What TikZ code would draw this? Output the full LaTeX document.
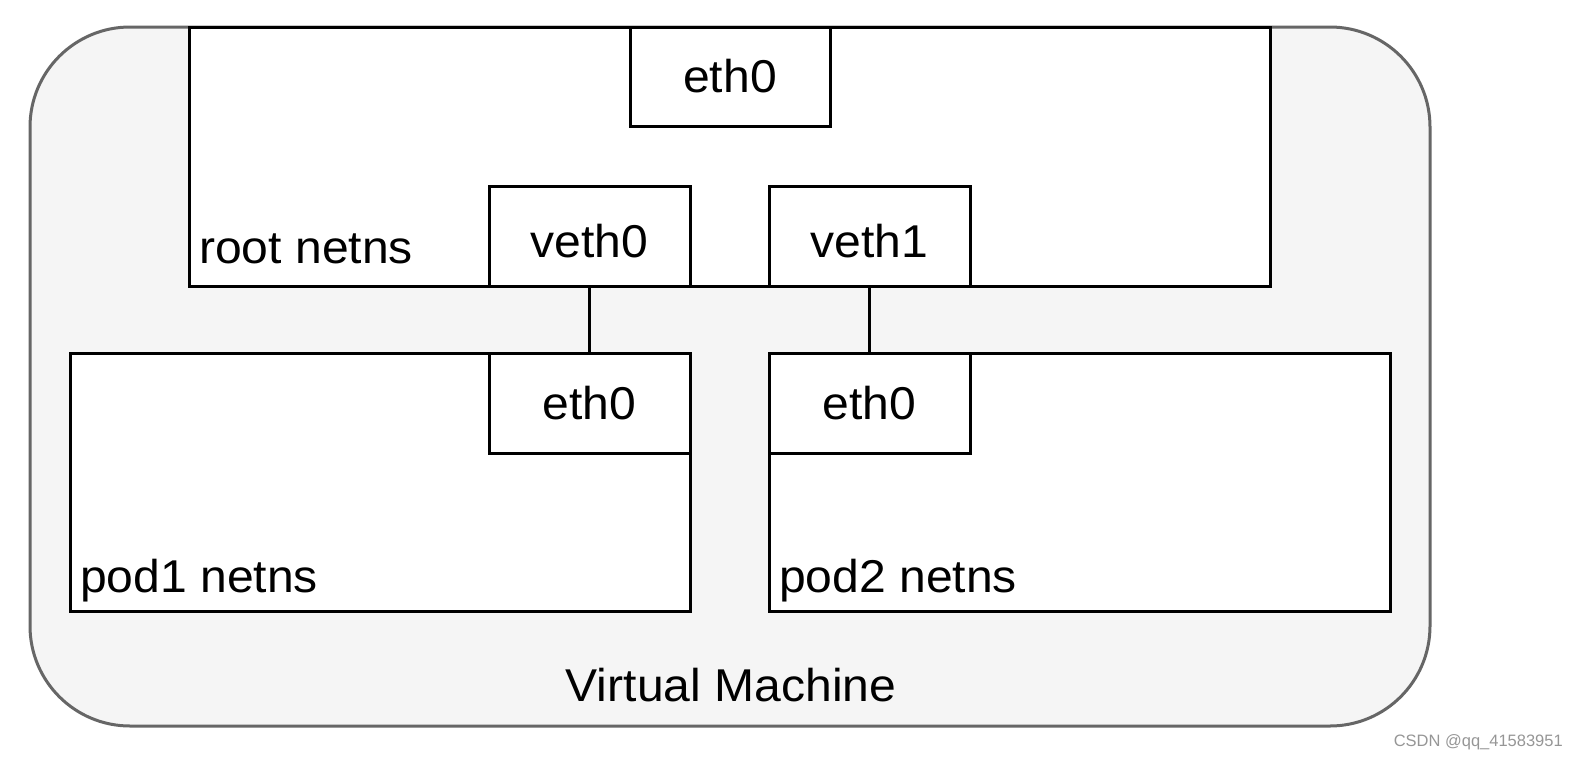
\documentclass[tikz,border=0pt]{standalone}
\usepackage{fontspec}
\setmainfont[FakeStretch=1.045]{Liberation Sans}
\newfontfamily\wmfont{Liberation Sans}
\begin{document}
\begin{tikzpicture}[x=1pt,y=-1pt,
  box/.style={draw=black,line width=3pt,fill=white,rectangle,inner sep=0pt},
  vbox/.style={box,text height=42pt,text depth=0pt},
  lbl/.style={inner sep=0pt,font=\fontsize{46}{54}\selectfont},
  conn/.style={draw=black,line width=3pt}]
\useasboundingbox (0,0) rectangle (1579,758);
\node[draw={rgb,255:red,102;green,102;blue,102},fill={rgb,255:red,245;green,245;blue,245},line width=3pt,rectangle,rounded corners=100pt,minimum width=1400pt,minimum height=699pt,inner sep=0pt] (vm) at (730,376.5) {};
\node[box,minimum width=1081pt,minimum height=259pt] (root) at (729.5,156.5) {};
\node[box,minimum width=200pt,minimum height=99pt,lbl] (reth) at (730,76.5) {eth0};
\node[vbox,minimum width=201pt,minimum height=100pt,lbl] (veth0) at (589.5,236) {veth0};
\node[vbox,minimum width=201pt,minimum height=100pt,lbl] (veth1) at (869.5,236) {veth1};
\node[box,minimum width=620pt,minimum height=258pt] (pod1) at (380,482) {};
\node[box,minimum width=621pt,minimum height=258pt] (pod2) at (1079.5,482) {};
\node[box,minimum width=201pt,minimum height=100pt,lbl] (p1eth) at (589.5,403) {eth0};
\node[box,minimum width=201pt,minimum height=100pt,lbl] (p2eth) at (869.5,403) {eth0};
\draw[conn] (veth0.south) -- (p1eth.north);
\draw[conn] (veth1.south) -- (p2eth.north);
\node[lbl,anchor=base west] (rootlbl) at (199,263) {root netns};
\node[lbl,anchor=base west] (pod1lbl) at (80,592) {pod1 netns};
\node[lbl,anchor=base west] (pod2lbl) at (779,592) {pod2 netns};
\node[lbl,anchor=base] (vmlbl) at (731,701) {Virtual Machine};
\node[inner sep=0pt,anchor=base east,text={rgb,255:red,150;green,150;blue,150},font=\wmfont\fontsize{16.5}{20}\selectfont] (wm) at (1563,746) {CSDN @qq\_41583951};
\end{tikzpicture}
\end{document}
